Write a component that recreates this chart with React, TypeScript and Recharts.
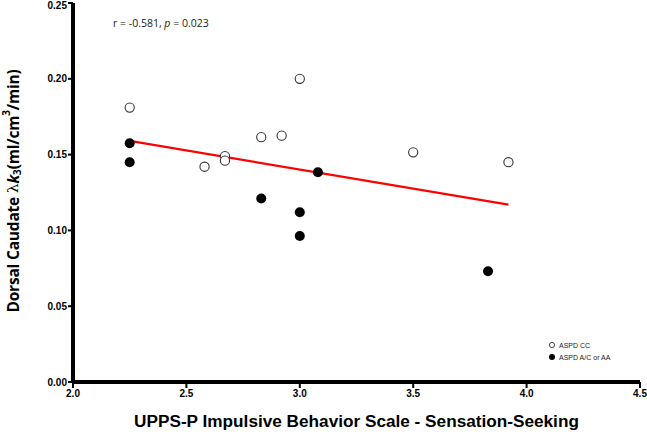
import {
  ScatterChart, Scatter, XAxis, YAxis, Customized,
} from "recharts";

// ASPD CC group (open circles)
const ccX = [2.25, 3.0, 2.58, 2.67, 2.67, 2.83, 2.92, 3.5, 3.92];
const ccY = [0.181, 0.200, 0.142, 0.149, 0.146, 0.1615, 0.1625, 0.1515, 0.145];

// ASPD A/C or AA group (filled circles)
const acX = [2.25, 2.25, 2.83, 3.0, 3.0, 3.08, 3.83];
const acY = [0.1575, 0.145, 0.121, 0.112, 0.0963, 0.1383, 0.0731];

// linear fit endpoints
const fitX = [2.25, 3.92];
const fitY = [0.159, 0.117];

const xTicks = [2.0, 2.5, 3.0, 3.5, 4.0, 4.5];
const yTicks = [0, 0.05, 0.1, 0.15, 0.2, 0.25];

const legendNames = ["ASPD CC", "ASPD A/C or AA"];

const ccData = ccX.map((x, i) => ({ x, y: ccY[i] }));
const acData = acX.map((x, i) => ({ x, y: acY[i] }));
const fitData = fitX.map((x, i) => ({ x, y: fitY[i] }));

const tickStyle = {
  fontSize: 10,
  fontWeight: 700,
  fill: "#000",
  fontFamily: "Liberation Sans, Arial, sans-serif",
};

function OpenDot(props: any) {
  const { cx, cy } = props;
  return <circle cx={cx} cy={cy} r={4.6} fill="#fff" stroke="#333" strokeWidth={1.1} />;
}

function FilledDot(props: any) {
  const { cx, cy } = props;
  return <circle cx={cx} cy={cy} r={5} fill="#000" />;
}

function NoDot() {
  return <g />;
}

function YLabel() {
  return (
    <text
      transform="translate(13,191) rotate(-90)"
      textAnchor="middle"
      dominantBaseline="central"
      fontFamily="Open Sans, sans-serif"
      fontWeight={700}
      fontSize={15.5}
      letterSpacing={-0.2}
      fill="#000"
    >
      Dorsal Caudate{" "}
      <tspan fontFamily="DejaVu Serif, serif" fontWeight={400}>λ</tspan>
      <tspan fontStyle="italic">k</tspan>
      <tspan fontSize={10} dy={4}>3</tspan>
      <tspan dy={-4}>(ml/cm</tspan>
      <tspan fontSize={10} dy={-7}>3</tspan>
      <tspan dy={7}>/min)</tspan>
    </text>
  );
}

function XLabel(props: any) {
  const { viewBox } = props;
  return (
    <text
      x={viewBox.x + viewBox.width / 2}
      y={427}
      textAnchor="middle"
      fontFamily="Liberation Sans, Arial, sans-serif"
      fontWeight={700}
      fontSize={17.2}
      fill="#000"
    >
      UPPS-P Impulsive Behavior Scale - Sensation-Seeking
    </text>
  );
}

function Overlay() {
  return (
    <g>
      <text x={113} y={27} fontFamily="Open Sans, sans-serif" fontSize={10.5} fill="#222">
        r = -0.581, <tspan fontStyle="italic">p</tspan> = 0.023
      </text>
      <g fontFamily="Liberation Sans, Arial, sans-serif" fontSize={7} fill="#222">
        <circle cx={552} cy={345} r={2.6} fill="#fff" stroke="#333" strokeWidth={0.9} />
        <text x={559} y={347.5}>{legendNames[0]}</text>
        <circle cx={552} cy={357} r={3} fill="#000" />
        <text x={559} y={359.5}>{legendNames[1]}</text>
      </g>
    </g>
  );
}

export default function App() {
  return (
    <div style={{ position: "absolute", left: 0, top: 0, background: "#fff" }}>
      <ScatterChart width={647} height={432} margin={{ top: 3, right: 7, bottom: 0, left: 0 }}>
        <XAxis
          type="number"
          dataKey="x"
          domain={[2, 4.5]}
          ticks={xTicks}
          tickFormatter={(v: number) => v.toFixed(1)}
          tick={tickStyle}
          tickSize={6}
          tickMargin={2}
          axisLine={{ stroke: "#000", strokeWidth: 4 }}
          tickLine={{ stroke: "#000", strokeWidth: 2 }}
          height={50}
          label={<XLabel />}
          allowDataOverflow
        />
        <YAxis
          type="number"
          dataKey="y"
          domain={[0, 0.25]}
          ticks={yTicks}
          tickFormatter={(v: number) => v.toFixed(2)}
          tick={tickStyle}
          tickSize={5}
          tickMargin={1}
          axisLine={{ stroke: "#000", strokeWidth: 4 }}
          tickLine={{ stroke: "#000", strokeWidth: 2 }}
          width={73}
          label={<YLabel />}
          allowDataOverflow
        />
        <Scatter
          name="fit"
          data={fitData}
          line={{ stroke: "#ff0000", strokeWidth: 2.2 }}
          shape={<NoDot />}
          legendType="none"
          isAnimationActive={false}
        />
        <Scatter name={legendNames[0]} data={ccData} shape={<OpenDot />} isAnimationActive={false} />
        <Scatter name={legendNames[1]} data={acData} shape={<FilledDot />} isAnimationActive={false} />
        <Customized component={<Overlay />} />
      </ScatterChart>
    </div>
  );
}
